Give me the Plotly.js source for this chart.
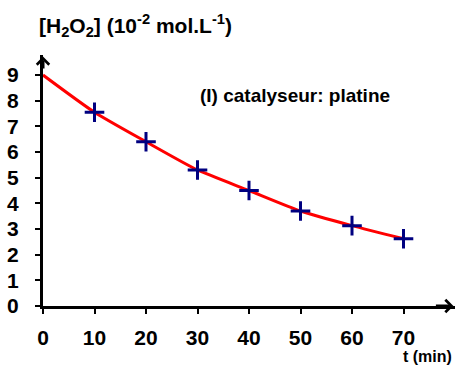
<!DOCTYPE html>
<html><head><meta charset="utf-8">
<script src="https://cdn.plot.ly/plotly-3.0.1.min.js"></script>
<style>html,body{margin:0;padding:0;background:#fff}</style>
</head><body>
<div id="chart" style="width:456px;height:366px"></div>
<script>
var times = [0, 10, 20, 30, 40, 50, 60, 70];
var concentrations = [9.0, 7.55, 6.4, 5.3, 4.5, 3.7, 3.13, 2.62];
var xTicks = [0, 10, 20, 30, 40, 50, 60, 70];
var yTicks = [0, 1, 2, 3, 4, 5, 6, 7, 8, 9];

var fam = 'Liberation Sans, Arial, sans-serif';
var font = {family: fam, size: 21, color: '#000', weight: 'bold'};

var traces = [
  {x: times, y: concentrations, mode: 'lines', line: {color: '#ff0000', width: 3, shape: 'spline', smoothing: 0.6}, hoverinfo: 'skip'},
  {x: times.slice(1), y: concentrations.slice(1), mode: 'markers', marker: {symbol: 'cross-thin', size: 14, line: {color: '#000080', width: 3}, color: '#000080'}}
];

var layout = {
  width: 456, height: 366,
  margin: {l: 43, r: 1, t: 55, b: 60},
  paper_bgcolor: '#fff', plot_bgcolor: '#fff',
  showlegend: false,
  xaxis: {range: [0, 80], tickvals: xTicks, ticktext: xTicks.map(String), showgrid: false, zeroline: false,
          showline: true, linecolor: '#000', linewidth: 3, ticks: 'outside', ticklen: 5, tickwidth: 2, tickcolor: '#000',
          tickfont: font, ticklabelstandoff: 6},
  yaxis: {range: [0, 9.78], tickvals: yTicks, ticktext: yTicks.map(String), showgrid: false, zeroline: false,
          showline: true, linecolor: '#000', linewidth: 3, ticks: 'outside', ticklen: 5, tickwidth: 2, tickcolor: '#000',
          tickfont: font, ticklabelstandoff: 12},
  annotations: [
    {xref: 'x', yref: 'y', axref: 'x', ayref: 'y', x: 79.7, y: 0, ax: 76, ay: 0, text: '', showarrow: true,
     arrowhead: 4, arrowsize: 0.8, arrowwidth: 3, arrowcolor: '#000'},
    {xref: 'x', yref: 'y', axref: 'x', ayref: 'y', x: 0, y: 9.72, ax: 0, ay: 9.2, text: '', showarrow: true,
     arrowhead: 4, arrowsize: 0.8, arrowwidth: 3, arrowcolor: '#000'},
    {xref: 'paper', yref: 'paper', x: -0.015, y: 1.05, xanchor: 'left', yanchor: 'bottom', showarrow: false,
     text: '[H<sub>2</sub>O<sub>2</sub>] (10<sup>-2</sup> mol.L<sup>-1</sup>)',
     font: {family: fam, size: 21, color: '#000', weight: 'bold'}},
    {xref: 'x', yref: 'y', x: 30, y: 8.22, xanchor: 'left', yanchor: 'middle', showarrow: false,
     text: '(I) catalyseur: platine',
     font: {family: fam, size: 19, color: '#000', weight: 'bold'}},
    {xref: 'paper', yref: 'paper', x: 0.997, y: -0.203, xanchor: 'right', yanchor: 'middle', showarrow: false,
     text: 't (min)',
     font: {family: fam, size: 16, color: '#000', weight: 'bold'}}
  ]
};

Plotly.newPlot('chart', traces, layout, {displayModeBar: false, staticPlot: true});
</script>
</body></html>
